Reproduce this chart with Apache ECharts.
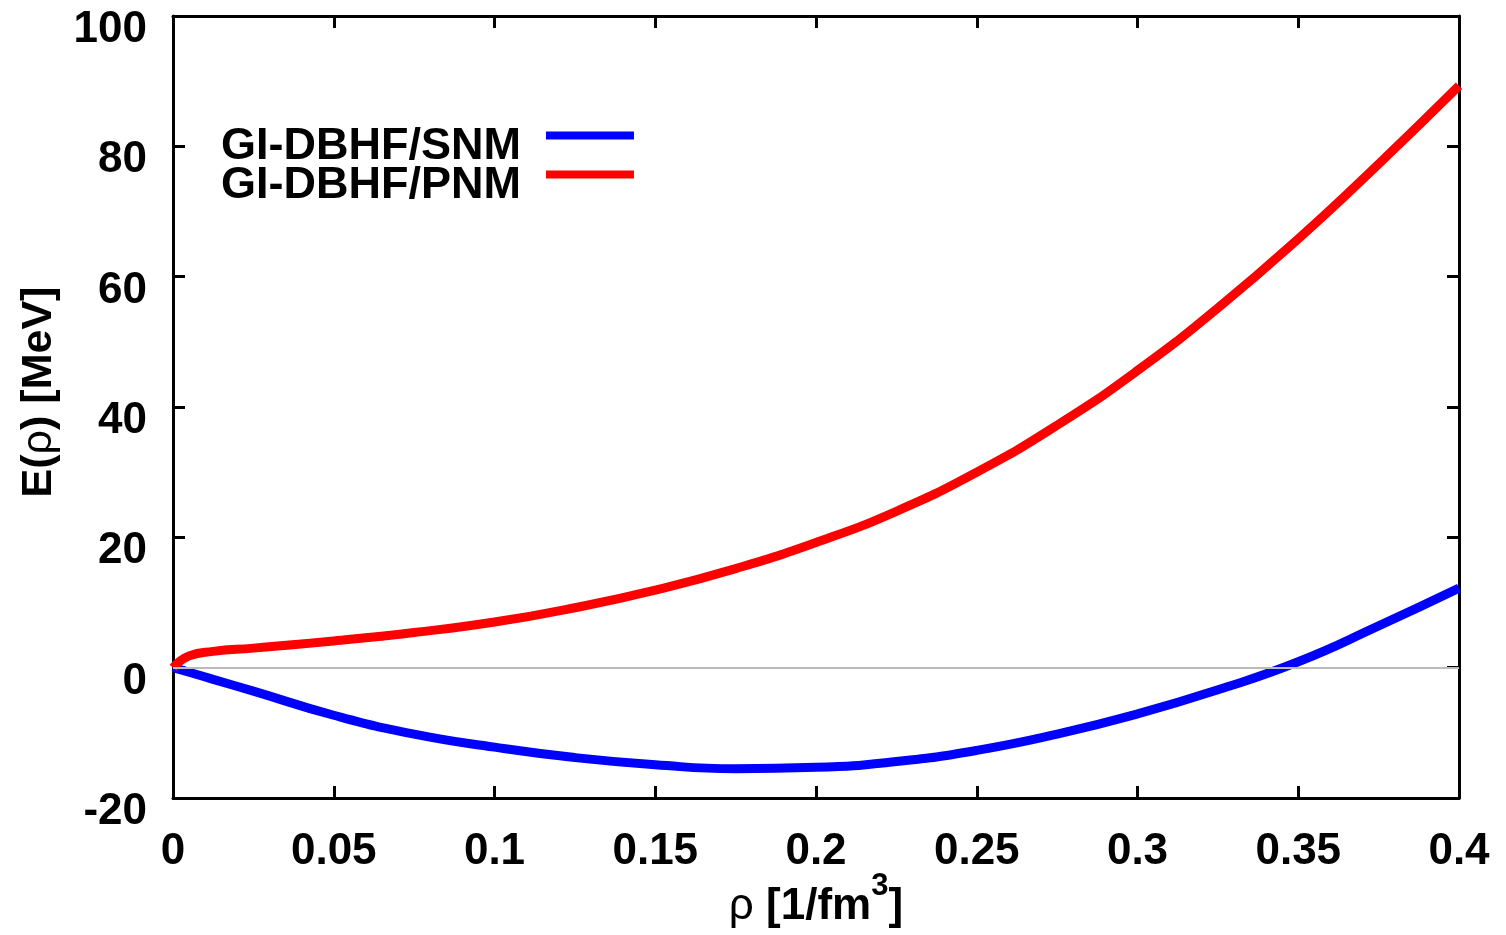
<!DOCTYPE html>
<html>
<head>
<meta charset="utf-8">
<script src="https://cdn.jsdelivr.net/npm/echarts@6/dist/echarts.min.js"></script>
<style>
html,body{margin:0;padding:0;background:#fff;}
#chart{width:1506px;height:935px;}
</style>
</head>
<body>
<div id="chart"></div>
<script>
const rho = [0, 0.005, 0.0125, 0.025, 0.05, 0.075, 0.1, 0.125, 0.15, 0.175, 0.2, 0.225, 0.25, 0.275, 0.3, 0.325, 0.35, 0.375, 0.4];
const snm = [0, -0.7, -1.8, -3.6, -7.3, -10.2, -12.2, -13.8, -14.9, -15.5, -15.3, -14.4, -12.7, -10.2, -7.1, -3.4, 0.9, 6.4, 12.2];
const pnm = [0, 1.8, 2.5, 3.0, 4.1, 5.4, 7.0, 9.2, 11.9, 15.2, 19.2, 24.0, 30.0, 37.2, 45.6, 55.2, 65.8, 77.3, 89.3];
const seriesNames = ['GI-DBHF/SNM', 'GI-DBHF/PNM'];
const xTicks = {min: 0, max: 0.4, interval: 0.05};
const yTicks = {min: -20, max: 100, interval: 20};

const FONT = 'Arial, "Liberation Sans", sans-serif';
const toPairs = ys => rho.map((x, i) => [x, ys[i]]);

const axisCommon = {
  axisLine: {show: true, onZero: false, lineStyle: {color: '#000', width: 3}},
  axisTick: {show: true, inside: true, length: 12, lineStyle: {color: '#000', width: 3}},
  splitLine: {show: false}
};

// legend sample: bar in the upper part of a taller icon box, so it sits above the text centre
const LEGEND_ICON = 'path://M0,0L88,0L88,8L0,8Z M0,30L0.01,30L0,30Z';

function legendFor(name, top) {
  return {
    orient: 'vertical',
    left: 216,
    top: top,
    align: 'right',
    itemGap: 0,
    itemWidth: 88,
    itemHeight: 30,
    icon: LEGEND_ICON,
    selectedMode: false,
    data: [name],
    textStyle: {fontFamily: FONT, fontWeight: 'bold', fontSize: 45, color: '#000', lineHeight: 40, padding: [0, 20, 0, 0]}
  };
}

const chart = echarts.init(document.getElementById('chart'));
chart.setOption({
  backgroundColor: '#fff',
  animation: false,
  grid: {left: 173, right: 47, top: 16, bottom: 137, containLabel: false, outerBoundsMode: 'none'},
  legend: [legendFor(seriesNames[0], 119), legendFor(seriesNames[1], 158)],
  xAxis: [
    Object.assign({
      type: 'value', position: 'bottom', min: xTicks.min, max: xTicks.max, interval: xTicks.interval,
      axisLabel: {fontFamily: FONT, fontWeight: 'bold', fontSize: 44, color: '#000', margin: 32},
      name: '{g|ρ} [1/fm{s|3}]',
      nameLocation: 'middle',
      nameGap: 73,
      nameMoveOverlap: false,
      nameTextStyle: {
        fontFamily: FONT, fontWeight: 'bold', fontSize: 44, color: '#000',
        rich: {
          g: {fontFamily: FONT, fontWeight: 'normal', fontSize: 44, color: '#000'},
          s: {fontFamily: FONT, fontWeight: 'bold', fontSize: 31, color: '#000', padding: [0, 0, 40, 0]}
        }
      }
    }, axisCommon),
    Object.assign({
      type: 'value', position: 'top', min: xTicks.min, max: xTicks.max, interval: xTicks.interval,
      axisLabel: {show: false}
    }, axisCommon)
  ],
  yAxis: [
    Object.assign({
      type: 'value', position: 'left', min: yTicks.min, max: yTicks.max, interval: yTicks.interval,
      axisLabel: {fontFamily: FONT, fontWeight: 'bold', fontSize: 44, color: '#000', margin: 26,
                  verticalAlign: 'top', lineHeight: 28},
      name: 'E({g|ρ}) [MeV]',
      nameLocation: 'middle',
      nameGap: 112,
      nameMoveOverlap: false,
      nameRotate: 90,
      nameTextStyle: {
        fontFamily: FONT, fontWeight: 'bold', fontSize: 43, color: '#000',
        padding: [0, 0, 0, 30],
        rich: {
          g: {fontFamily: FONT, fontWeight: 'normal', fontSize: 43, color: '#000'}
        }
      }
    }, axisCommon),
    Object.assign({
      type: 'value', position: 'right', min: yTicks.min, max: yTicks.max, interval: yTicks.interval,
      axisLabel: {show: false}
    }, axisCommon)
  ],
  series: [
    {
      name: seriesNames[0], type: 'line', data: toPairs(snm), smooth: true, showSymbol: false,
      color: '#0000ff', lineStyle: {color: '#0000ff', width: 9},
      markLine: {
        silent: true, symbol: 'none', label: {show: false},
        lineStyle: {color: '#bbbbbb', width: 2, type: 'solid'},
        data: [{yAxis: 0}]
      },
      z: 3
    },
    {
      name: seriesNames[1], type: 'line', data: toPairs(pnm), smooth: true, showSymbol: false,
      color: '#ff0000', lineStyle: {color: '#ff0000', width: 9},
      z: 3
    }
  ]
});
</script>
</body>
</html>
